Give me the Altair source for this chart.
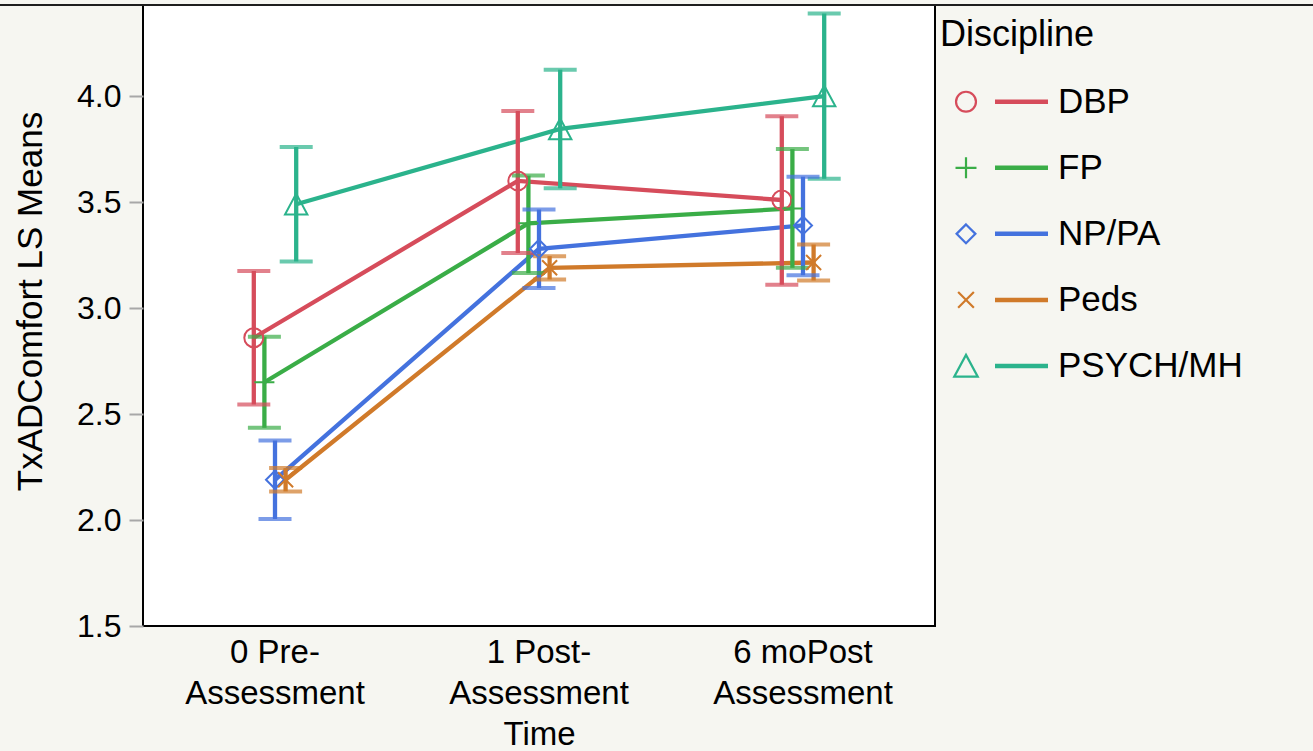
import json

import altair as alt
import pandas as pd

# ---- data -------------------------------------------------------------
times = ["0 Pre-Assessment", "1 Post-Assessment", "6 moPost Assessment"]
time_label_lines = [
    ["0 Pre-", "Assessment"],
    ["1 Post-", "Assessment"],
    ["6 moPost", "Assessment"],
]

disciplines = ["DBP", "FP", "NP/PA", "Peds", "PSYCH/MH"]
colors = ["#d64c5b", "#3aad47", "#4472de", "#d07a2a", "#2bb38c"]

# least-squares means and their interval limits, one value per time point
ls_means = {
    "DBP":      [2.86, 3.60, 3.51],
    "FP":       [2.65, 3.40, 3.47],
    "NP/PA":    [2.19, 3.28, 3.39],
    "Peds":     [2.19, 3.19, 3.215],
    "PSYCH/MH": [3.49, 3.845, 4.00],
}
lower = {
    "DBP":      [2.545, 3.26, 3.11],
    "FP":       [2.435, 3.165, 3.19],
    "NP/PA":    [2.005, 3.095, 3.155],
    "Peds":     [2.135, 3.135, 3.13],
    "PSYCH/MH": [3.22, 3.565, 3.61],
}
upper = {
    "DBP":      [3.175, 3.93, 3.905],
    "FP":       [2.865, 3.625, 3.75],
    "NP/PA":    [2.375, 3.465, 3.62],
    "Peds":     [2.245, 3.245, 3.30],
    "PSYCH/MH": [3.76, 4.125, 4.39],
}

rows = []
for d in disciplines:
    for i, t in enumerate(times):
        rows.append({"Discipline": d, "Time": t,
                     "mean": ls_means[d][i], "lo": lower[d][i], "hi": upper[d][i]})
df = pd.DataFrame(rows)

# open marker outlines (unit square paths)
marker_paths = [
    "M-0.95,0A0.95,0.95 0 1,0 0.95,0A0.95,0.95 0 1,0 -0.95,0Z",   # circle
    "M-1,0L1,0M0,-1L0,1",                                           # plus
    "M0,-0.9L0.9,0L0,0.9L-0.9,0Z",                                  # diamond
    "M-0.75,-0.75L0.75,0.75M-0.75,0.75L0.75,-0.75",                 # x
    "M0,-1.06L1.12,1.02L-1.12,1.02Z",                               # triangle
]

# multi-line tick labels for the time axis
label_expr = ""
for t, lines in zip(times, time_label_lines):
    label_expr += f"datum.value == {json.dumps(t)} ? {json.dumps(lines)} : "
label_expr += "datum.label"

FONT = "Liberation Sans"

# ---- encodings --------------------------------------------------------
x_enc = alt.X(
    "Time:N", sort=times,
    scale=alt.Scale(type="band", paddingInner=0, paddingOuter=0),
    axis=alt.Axis(
        title="Time", labelExpr=label_expr, labelAngle=0, ticks=False, domain=False,
        labelFontSize=33, labelLineHeight=41, labelPadding=10, labelColor="black",
        titleFontSize=33, titleFontWeight="normal", titleColor="black", titlePadding=8,
    ),
)
# disciplines are dodged in a narrow cluster around each time point
x_off = alt.XOffset("Discipline:N", sort=disciplines,
                    scale=alt.Scale(type="point", range=[110.8, 153.2], padding=0))
y_scale = alt.Scale(domain=[1.5, 4.43], nice=False, zero=False)
y_enc = alt.Y(
    "mean:Q", scale=y_scale,
    axis=alt.Axis(
        title="TxADComfort LS Means", values=[1.5, 2.0, 2.5, 3.0, 3.5, 4.0], format=".1f",
        grid=False, domain=False, tickSize=14, tickWidth=2, tickColor="#a8a8a8",
        labelFontSize=32, labelPadding=8, labelColor="black", labelFlush=False,
        labelOverlap=False,
        titleFontSize=35, titleFontWeight="normal", titleColor="black", titlePadding=28,
        titleY=296,
    ),
)
color = alt.Color("Discipline:N", sort=disciplines,
                  scale=alt.Scale(domain=disciplines, range=colors), legend=None)
shape = alt.Shape("Discipline:N", sort=disciplines,
                  scale=alt.Scale(domain=disciplines, range=marker_paths), legend=None)

base = alt.Chart(df)

lines = base.mark_line(strokeWidth=4.3).encode(x=x_enc, xOffset=x_off, y=y_enc, color=color)
bars = base.mark_rule(strokeWidth=4.3).encode(
    x=x_enc, xOffset=x_off, y=alt.Y("lo:Q", scale=y_scale), y2="hi:Q", color=color)
caps_lo = base.mark_tick(thickness=4, size=33).encode(
    x=x_enc, xOffset=x_off, y=alt.Y("lo:Q", scale=y_scale), color=color)
caps_hi = base.mark_tick(thickness=4, size=33).encode(
    x=x_enc, xOffset=x_off, y=alt.Y("hi:Q", scale=y_scale), color=color)
points = base.mark_point(filled=False, strokeWidth=2, size=400, opacity=1).encode(
    x=x_enc, xOffset=x_off, y=y_enc, color=color, shape=shape)

main = alt.layer(lines, bars, caps_lo, caps_hi, points)

# ---- legend drawn beside the plot --------------------------------------
leg_df = pd.DataFrame({"Discipline": disciplines})
y_leg = alt.Y("Discipline:N", sort=disciplines, axis=None,
              scale=alt.Scale(type="point", domain=disciplines, range=[96.7, 361], padding=0))
leg_base = alt.Chart(leg_df)
leg_marks = leg_base.mark_point(filled=False, strokeWidth=2.2, size=440, opacity=1).encode(
    x=alt.value(823), y=y_leg, color=color, shape=shape)
leg_lines = leg_base.mark_rule(strokeWidth=4.5).encode(
    x=alt.value(852), x2=alt.value(905), y=y_leg, color=color)
leg_text = leg_base.mark_text(align="left", baseline="middle", fontSize=35,
                              color="black", font=FONT).encode(
    x=alt.value(915), y=y_leg, text="Discipline:N")
leg_title = alt.Chart(pd.DataFrame({"t": ["Discipline"]})).mark_text(
    align="left", baseline="alphabetic", fontSize=36, color="black", font=FONT).encode(
    x=alt.value(797), y=alt.value(41), text="t:N")
legend = alt.layer(leg_marks, leg_lines, leg_text, leg_title)

# window frame line along the top
top_line = alt.Chart(pd.DataFrame({"k": [0]})).mark_rule(color="#1e1e1e", strokeWidth=2).encode(
    x=alt.value(-143), x2=alt.value(1170), y=alt.value(0))

chart = (
    alt.layer(main, legend, top_line)
    .resolve_scale(y="independent")
    .properties(
        width=792, height=621,
        autosize=alt.AutoSizeParams(type="none"),
        padding={"left": 143, "top": 5, "right": 378, "bottom": 125},
        background="#f6f6f1",
    )
    .configure(font=FONT)
    .configure_view(fill="white", stroke="black", strokeWidth=2)
)

chart.save("out.html", embed_options={"renderer": "svg", "actions": False})
